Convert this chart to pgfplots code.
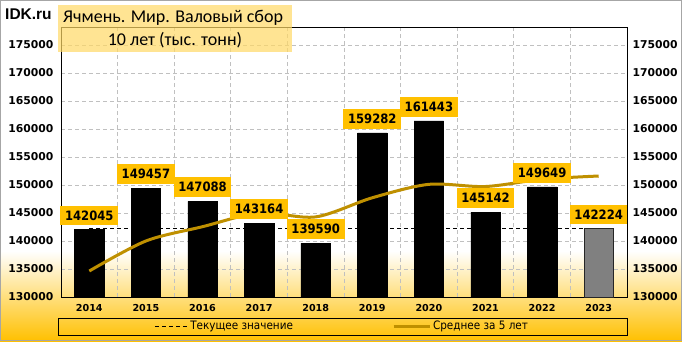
\documentclass[border=0pt]{standalone}
\usepackage{fontspec}
\setmainfont{Carlito}
\newfontfamily\dvs{DejaVu Sans}
\newfontfamily\dvc{DejaVu Sans Condensed}[BoldFont={DejaVu Sans Condensed Bold}]
\newfontfamily\lib{Liberation Sans}
\usepackage{pgfplots}
\pgfplotsset{compat=1.18}
\definecolor{gold}{HTML}{FFC000}
\definecolor{avgc}{HTML}{BF9000}
\definecolor{gridc}{HTML}{C0C0C0}
\definecolor{titlebg}{HTML}{FFD966}
\definecolor{bgbot}{HTML}{FFC000}
\pgfplotsset{
  legA/.style={legend image code/.code={\draw[##1] (0pt,0pt) -- (33pt,0pt);}},
  legB/.style={legend image code/.code={\draw[##1] (0pt,0pt) -- (36pt,0pt);}},
}
\begin{document}
\begin{tikzpicture}[x=1pt,y=1pt]
% background
\fill[white] (0,0) rectangle (682,341);
\shade[top color=white, bottom color=bgbot] (0,0) rectangle (682,90);
\begin{axis}[
  at={(61pt,44pt)}, anchor=south west,
  scale only axis, width=566pt, height=270pt,
  xmin=-0.5, xmax=9.5, ymin=130000, ymax=178200,
  xtick={0,...,9},
  xticklabels={2014,2015,2016,2017,2018,2019,2020,2021,2022,2023},
  minor xtick={-0.5,0.5,...,9.5},
  ytick={130000,135000,...,175000},
  scaled y ticks=false,
  xminorgrids=true, ymajorgrids=true,
  minor grid style={gridc, dash pattern=on 4pt off 3pt, line width=0.7pt},
  major grid style={gridc, dash pattern=on 4pt off 3pt, line width=0.7pt},
  major tick length=0pt, minor tick length=0pt,
  axis line style={black, line width=0.8pt},
  /pgf/number format/.cd, fixed, precision=0, 1000 sep={}, assume math mode=true, /pgfplots/.cd,
  yticklabel style={font=\dvs\bfseries\fontsize{10.8}{12}\selectfont, xshift=-4pt},
  xticklabel style={font=\dvs\bfseries\fontsize{9.6}{11}\selectfont, yshift=-4pt},
  legend style={draw=none, fill=none, at={(0.497,-0.109)}, anchor=center,
    legend columns=2, font=\dvc\fontsize{11.6}{13}\selectfont,
    /tikz/every even column/.append style={column sep=97pt},
    inner sep=0pt},
  legend cell align=left,
  clip=false,
]
\addplot[black, line width=0.7pt, dash pattern=on 4pt off 3pt, legA]
  coordinates {(0,142224) (9,142224)};
\addlegendentry{Текущее значение}
\addplot[ybar, bar width=29.5pt, fill=black, draw=black, line width=0.5pt, forget plot]
  coordinates {(0,142045) (1,149457) (2,147088) (3,143164) (4,139590)
               (5,159282) (6,161443) (7,145142) (8,149649)};
\addplot[ybar, bar width=29.5pt, fill=gray, draw=black!85, line width=0.8pt, forget plot]
  coordinates {(9,142224)};
\addplot[avgc, line width=3pt, smooth, legB]
  coordinates {(0,134640) (1,140000) (2,142550) (3,145000) (4,144300)
               (5,147716) (6,150113) (7,149724) (8,151021) (9,151600)};
\addlegendentry{Среднее за 5 лет}
\addplot[draw=none, forget plot, nodes near coords, point meta=y,
  every node near coord/.style={fill=gold, text=black, anchor=south, yshift=4pt,
    inner xsep=4.7pt, inner ysep=5pt,
    font=\dvc\bfseries\fontsize{12.9}{14}\selectfont}]
  coordinates {(0,142045) (1,149457) (2,147088) (3,143164) (4,139590)
               (5,159282) (6,161443) (7,145142) (8,149649) (9,142224)};
\end{axis}
\begin{axis}[
  at={(61pt,44pt)}, anchor=south west,
  scale only axis, width=566pt, height=270pt,
  xmin=-0.5, xmax=9.5, ymin=130000, ymax=178200,
  axis x line=none, axis y line*=right,
  ytick={130000,135000,...,175000},
  scaled y ticks=false,
  major tick length=0pt,
  axis line style={black, line width=0.8pt},
  /pgf/number format/.cd, fixed, precision=0, 1000 sep={}, assume math mode=true, /pgfplots/.cd,
  yticklabel style={font=\dvs\bfseries\fontsize{10.8}{12}\selectfont, xshift=2pt},
]
\addplot[draw=none] coordinates {(0,150000)};
\end{axis}
% legend frame
\draw[black, line width=0.8pt] (58,6) rectangle (627,23);
% title box
\fill[titlebg, opacity=0.7] (58,289) rectangle (292,336);
\node[font=\fontsize{18}{20}\selectfont, anchor=base west, inner sep=0pt] at (63,318.5) {Ячмень. Мир. Валовый сбор};
\node[font=\fontsize{18}{20}\selectfont, anchor=base, inner sep=0pt] at (175,296) {10 лет (тыс. тонн)};
\node[font=\lib\bfseries\fontsize{15.5}{17}\selectfont, anchor=base west, inner sep=0pt] at (5,322) {IDK.ru};
% outer border
\draw[gray!70, line width=0.8pt] (0.4,0.4) rectangle (681.6,340.6);
\pgfresetboundingbox
\path[use as bounding box] (0,0) rectangle (682,341);
\end{tikzpicture}
\end{document}
